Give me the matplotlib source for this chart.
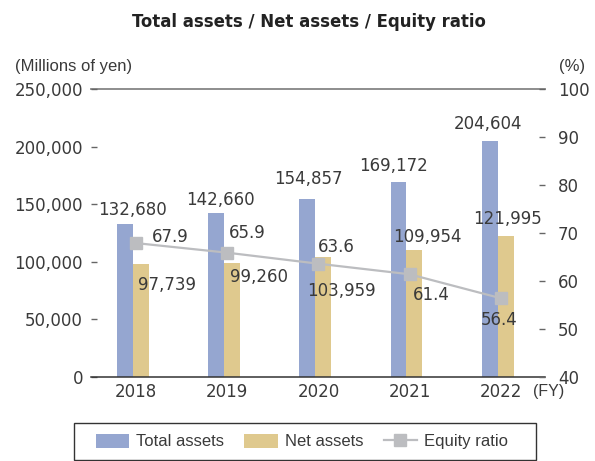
import matplotlib
matplotlib.use("Agg")
import matplotlib.pyplot as plt
from matplotlib.lines import Line2D
from matplotlib.patches import Patch, Rectangle
from matplotlib.transforms import ScaledTranslation

# ---- data ----
years = ["2018", "2019", "2020", "2021", "2022"]
total_assets = [132680, 142660, 154857, 169172, 204604]
net_assets = [97739, 99260, 103959, 109954, 121995]
equity_ratio = [67.9, 65.9, 63.6, 61.4, 56.4]
left_ticks = [0, 50000, 100000, 150000, 200000, 250000]
right_ticks = [40, 50, 60, 70, 80, 90, 100]

# ---- style ----
C_TOTAL = "#95A6D0"
C_NET = "#DFC98E"
C_EQ = "#BCBDC0"
C_TEXT = "#3a3a3a"
W, H = 595, 461
bw = 0.175

# label offsets in pixels (dx right, dy up)
tot_off = [(8, 5), (4, 4), (1, 11), (-5, 7), (-2, 8)]
net_off = [(26, -21), (27, -14), (18, -34), (13, 13), (2, 17)]
eq_off = [(34, 6), (20, 20), (18, 17), (22, -21), (-2, -22)]

fig = plt.figure(figsize=(W / 100, H / 100), dpi=100)
ax = fig.add_axes([91 / W, (H - 377) / H, 454 / W, 288 / H])
ax2 = ax.twinx()
shift = ScaledTranslation(3.2 / 100, 0, fig.dpi_scale_trans)

x = list(range(len(years)))
xt = [i - bw / 2 for i in x]
xn = [i + bw / 2 for i in x]
ax.bar(xt, total_assets, width=bw, color=C_TOTAL, zorder=2)
ax.bar(xn, net_assets, width=bw, color=C_NET, zorder=2)

ax.set_xlim(-0.457, 4.518)
ax.set_ylim(0, 250000)
ax.axhline(250000, color="#858585", lw=1.3, zorder=1, clip_on=False)
ax.set_yticks(left_ticks)
ax.set_yticklabels([f"{v:,}" for v in left_ticks])
ax.set_xticks(x)
ax.set_xticklabels(years)
ax.tick_params(axis="y", direction="in", length=6 * 0.72, width=1, color="#666666",
               labelsize=12, labelcolor=C_TEXT, pad=5.8)
ax.tick_params(axis="x", length=0, labelsize=12, labelcolor=C_TEXT, pad=4)
for lab in ax.get_xticklabels():
    lab.set_transform(lab.get_transform() + shift)
for s in ["left", "right", "top"]:
    ax.spines[s].set_visible(False)
ax.spines["bottom"].set_color("#333333")
ax.spines["bottom"].set_linewidth(1.1)
ax.spines["bottom"].set_zorder(5)

ax2.set_ylim(40, 100)
ax2.set_yticks(right_ticks)
ax2.tick_params(axis="y", direction="in", length=6 * 0.72, width=1, color="#666666",
                labelsize=12, labelcolor=C_TEXT, pad=9.4)
for s in ["left", "right", "top", "bottom"]:
    ax2.spines[s].set_visible(False)
ax2.plot(x, equity_ratio, color=C_EQ, lw=1.6, marker="s", markersize=8.3,
         markerfacecolor=C_EQ, markeredgecolor=C_EQ, zorder=4,
         transform=ax2.transData + shift)

for i in x:
    ax.annotate(f"{total_assets[i]:,}", (xt[i], total_assets[i]), xytext=tot_off[i],
                textcoords="offset pixels", ha="center", va="bottom",
                fontsize=12, color=C_TEXT, zorder=6)
    ax.annotate(f"{net_assets[i]:,}", (xn[i], net_assets[i]), xytext=net_off[i],
                textcoords="offset pixels", ha="center", va="center",
                fontsize=12, color=C_TEXT, zorder=6)
    ax2.annotate(f"{equity_ratio[i]}", (i, equity_ratio[i]), xytext=eq_off[i],
                 textcoords="offset pixels", ha="center", va="center",
                 fontsize=12, color=C_TEXT, zorder=6,
                 xycoords=ax2.transData + shift)

fig.text(309 / W, 1 - 22 / H, "Total assets / Net assets / Equity ratio",
         ha="center", va="center", fontsize=13.2, fontweight="bold",
         fontstretch="condensed", family="DejaVu Sans", color="#222222")
fig.text(15 / W, 1 - 66 / H, "(Millions of yen)", ha="left", va="center",
         fontsize=12, family="Liberation Sans", color=C_TEXT)
fig.text(585 / W, 1 - 66 / H, "(%)", ha="right", va="center",
         fontsize=12, family="Liberation Sans", color=C_TEXT)
fig.text(549 / W, 1 - 391 / H, "(FY)", ha="center", va="center",
         fontsize=11.5, family="Liberation Sans", color=C_TEXT)

# legend
fig.patches.append(Rectangle((74 / W, 1 - 460 / H), 462 / W, 37 / H,
                             transform=fig.transFigure, fill=False,
                             edgecolor="#333333", lw=1))
handles = [Patch(facecolor=C_TOTAL), Patch(facecolor=C_NET),
           Line2D([], [], color=C_EQ, lw=1.6, marker="s", markersize=8.3)]
leg = fig.legend(handles, ["Total assets", "Net assets", "Equity ratio"],
                 loc="center", bbox_to_anchor=(302 / W, 1 - 441.5 / H), ncol=3,
                 frameon=False, prop={"family": "Liberation Sans", "size": 12},
                 handlelength=2.0, handleheight=0.9, handletextpad=0.45,
                 columnspacing=1.2, borderpad=0, borderaxespad=0)
for t in leg.get_texts():
    t.set_color(C_TEXT)

fig.savefig("out.png", dpi=100)
